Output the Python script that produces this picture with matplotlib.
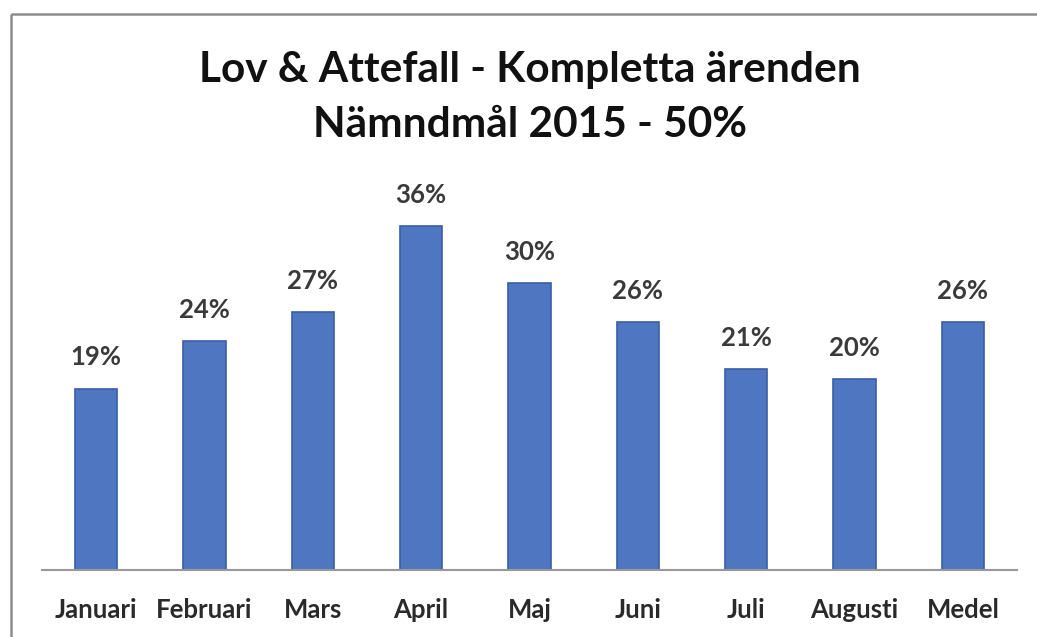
import matplotlib
matplotlib.use("Agg")
import matplotlib.pyplot as plt
from matplotlib.lines import Line2D

months = ["Januari", "Februari", "Mars", "April", "Maj", "Juni", "Juli", "Augusti", "Medel"]
values = [19, 24, 27, 36, 30, 26, 21, 20, 26]
labels = ["19%", "24%", "27%", "36%", "30%", "26%", "21%", "20%", "26%"]

plt.rcParams['font.family'] = ['Lato', 'DejaVu Sans']

W, H = 1037, 637
fig = plt.figure(figsize=(W / 100, H / 100), dpi=100)
fig.patch.set_facecolor('white')

# chart frame (scanned border: top and left only)
fig.add_artist(Line2D([11 / W, 1.01], [1 - 14 / H, 1 - 14 / H], color='#8c8c8c', lw=1.8,
                      solid_capstyle='butt', transform=fig.transFigure))
fig.add_artist(Line2D([11 / W, 11 / W], [-0.01, 1 - 14 / H], color='#8c8c8c', lw=1.8,
                      solid_capstyle='butt', transform=fig.transFigure))

ax = fig.add_axes([42 / W, (H - 570) / H, 975 / W, 382 / H])
x = range(len(months))
bars = ax.bar(x, values, width=0.39, color='#4f76c0', edgecolor='#3a5ea6', linewidth=1.2)

for b, lab in zip(bars, labels):
    ax.text(b.get_x() + b.get_width() / 2, b.get_height() + 2.0, lab,
            ha='center', va='bottom', fontsize=18.5, fontweight='bold', color='#3a3a3a')

ax.set_xlim(-0.5, len(months) - 0.5)
ax.set_ylim(0, 40)
ax.set_yticks([])
ax.set_xticks(list(x))
ax.set_xticklabels(months, fontsize=18.5, fontweight='bold', color='#2a2a2a')
ax.tick_params(axis='x', length=0, pad=20)
for s in ['top', 'right', 'left']:
    ax.spines[s].set_visible(False)
ax.spines['bottom'].set_color('#999999')
ax.spines['bottom'].set_linewidth(1.5)

fig.text(530 / W, 1 - 70 / H, "Lov & Attefall - Kompletta ärenden", ha='center', va='center',
         fontsize=30.5, fontweight='bold', color='#111111')
fig.text(530 / W, 1 - 125 / H, "Nämndmål 2015 - 50%", ha='center', va='center',
         fontsize=30.5, fontweight='bold', color='#111111')

fig.savefig("out.png", dpi=100)
